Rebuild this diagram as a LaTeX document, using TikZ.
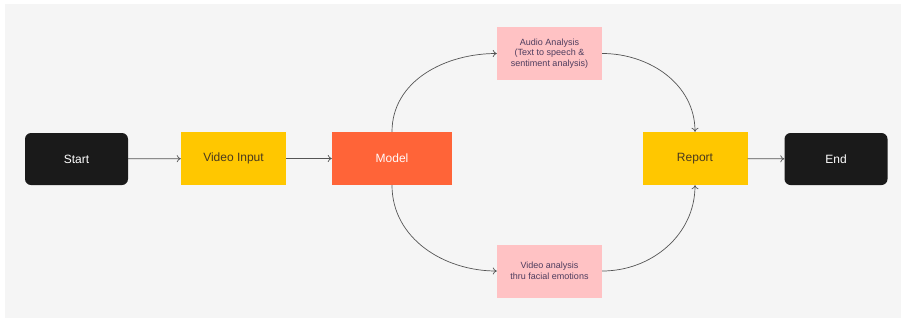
\documentclass[tikz,border=0pt]{standalone}
\usepackage{fontspec}
\setmainfont{Liberation Sans}
\usetikzlibrary{arrows.meta}
\definecolor{bg}{HTML}{F5F5F5}
\definecolor{blk}{HTML}{1A1A1A}
\definecolor{yel}{HTML}{FFC700}
\definecolor{org}{HTML}{FF6438}
\definecolor{pnk}{HTML}{FFC2C4}
\definecolor{ytxt}{HTML}{4A3A1E}
\definecolor{ptxt}{HTML}{4E3D5E}
\definecolor{ln}{HTML}{555555}
\tikzset{
  term/.style={fill=blk, rounded corners=6pt, text=white, minimum width=103pt, minimum height=52pt, font=\fontsize{12}{14}\selectfont},
  ybox/.style={fill=yel, text=ytxt, minimum width=105pt, minimum height=53pt, font=\fontsize{12}{14}\selectfont},
  obox/.style={fill=org, text=white!92!pink, minimum width=120pt, minimum height=53pt, font=\fontsize{12}{14}\selectfont},
  pbox/.style={fill=pnk, text=ptxt, minimum width=105pt, minimum height=53pt, align=center, font=\fontsize{9}{10.5}\selectfont},
  conn/.style={draw=ln, line width=0.7pt, -{To[length=4pt,width=7pt]}}
}
\begin{document}
\begin{tikzpicture}[x=1pt,y=-1pt]
\useasboundingbox (0,0) rectangle (906,322);
\fill[white] (0,0) rectangle (906,322);
\fill[bg] (5,4) rectangle (901,318);
\node[term] (start) at (76.5,159) {Start};
\node[ybox] (vin) at (233.5,158.5) {Video Input};
\node[obox] (model) at (392,158.5) {Model};
\node[pbox] (audio) at (549.5,53.5) {Audio Analysis\\(Text to speech \&\\sentiment analysis)};
\node[pbox] (vana) at (549.5,271) {Video analysis\\thru facial emotions};
\node[ybox] (report) at (695,158.5) {Report};
\node[term] (end) at (836,159) {End};
\draw[conn] (start) -- (vin);
\draw[conn] (vin) -- (model);
\draw[conn] (report) -- (end);
\draw[conn] (model.north) to[out=90,in=180] (audio.west);
\draw[conn] (model.south) to[out=-90,in=180] (vana.west);
\draw[conn] (audio.east) to[out=0,in=90] (report.north);
\draw[conn] (vana.east) to[out=0,in=-90] (report.south);
\end{tikzpicture}
\end{document}
